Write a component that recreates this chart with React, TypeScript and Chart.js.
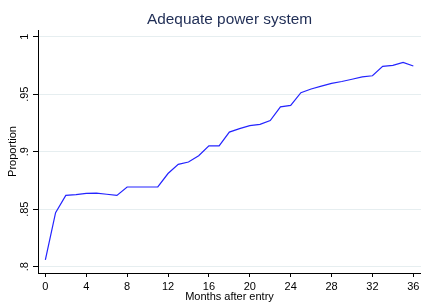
import React, { useEffect, useRef } from "react";
import { Chart, registerables } from "chart.js";

Chart.register(...registerables);

const months = [0, 1, 2, 3, 4, 5, 6, 7, 8, 9, 10, 11, 12, 13, 14, 15, 16, 17, 18, 19, 20, 21, 22, 23, 24, 25, 26, 27, 28, 29, 30, 31, 32, 33, 34, 35, 36];
const proportion = [
  0.806, 0.847, 0.862, 0.8626, 0.8638, 0.864, 0.863, 0.862, 0.8693, 0.8693,
  0.8693, 0.8693, 0.881, 0.889, 0.891, 0.8965, 0.905, 0.905, 0.917, 0.92,
  0.9226, 0.9238, 0.927, 0.939, 0.9403, 0.9513, 0.9545, 0.957, 0.9594, 0.961,
  0.963, 0.965, 0.966, 0.9742, 0.975, 0.9777, 0.9745,
];
const xTicks = [0, 4, 8, 12, 16, 20, 24, 28, 32, 36];
const yTicks = [0.8, 0.85, 0.9, 0.95, 1];
const yTickLabels = [".8", ".85", ".9", ".95", "1"];
const titleText = "Adequate power system";
const xTitle = "Months after entry";
const yTitle = "Proportion";

const FONT = "'Liberation Sans', Arial, Helvetica, sans-serif";

export default function App() {
  const ref = useRef<HTMLCanvasElement | null>(null);

  useEffect(() => {
    if (!ref.current) return;
    const customText = {
      id: "customText",
      afterDraw(chart: any) {
        const ctx = chart.ctx;
        const area = chart.chartArea;
        const y = chart.scales.y;
        ctx.save();
        // title
        ctx.fillStyle = "#1f2d55";
        ctx.font = `15.4px ${FONT}`;
        ctx.textAlign = "center";
        ctx.textBaseline = "alphabetic";
        ctx.fillText(titleText, (area.left + area.right) / 2, 24);
        // y tick labels (rotated)
        ctx.fillStyle = "#000";
        ctx.font = `11px ${FONT}`;
        yTicks.forEach((v, i) => {
          const py = y.getPixelForValue(v);
          ctx.save();
          ctx.translate(27.8, py);
          ctx.rotate(-Math.PI / 2);
          ctx.textAlign = "center";
          ctx.textBaseline = "alphabetic";
          ctx.fillText(yTickLabels[i], 0, 0);
          ctx.restore();
        });
        ctx.restore();
      },
    };

    const chart = new Chart(ref.current, {
      type: "line",
      data: {
        datasets: [
          {
            data: months.map((m, i) => ({ x: m, y: proportion[i] })),
            borderColor: "#2424ff",
            borderWidth: 1.2,
            pointRadius: 0,
            tension: 0,
            fill: false,
          },
        ],
      },
      options: {
        responsive: false,
        animation: false,
        layout: { padding: { top: 30, left: 0, right: 0, bottom: 0 } },
        plugins: {
          legend: { display: false },
          title: { display: false },
          tooltip: { enabled: false },
        },
        scales: {
          x: {
            type: "linear",
            min: -0.72,
            max: 36.75,
            afterBuildTicks: (s: any) => {
              s.ticks = xTicks.map((v) => ({ value: v }));
            },
            afterFit: (s: any) => {
              s.height = 32;
              s.paddingLeft = 0;
              s.paddingRight = 0;
            },
            grid: {
              display: true,
              drawOnChartArea: false,
              drawTicks: true,
              tickLength: 4,
              tickColor: "#000",
            },
            border: { display: true, color: "#000", width: 1 },
            ticks: {
              color: "#000",
              font: { family: FONT, size: 11 },
              padding: 3,
              maxRotation: 0,
              minRotation: 0,
            },
            title: {
              display: true,
              text: xTitle,
              color: "#000",
              font: { family: FONT, size: 11 },
              padding: { top: 0, bottom: 1 },
            },
          },
          y: {
            type: "linear",
            min: 0.7945,
            max: 1.0058,
            afterBuildTicks: (s: any) => {
              s.ticks = yTicks.map((v) => ({ value: v }));
            },
            afterFit: (s: any) => {
              s.width = 38;
              s.paddingTop = 0;
              s.paddingBottom = 0;
            },
            grid: {
              color: "#e6eef0",
              lineWidth: 1,
              drawTicks: true,
              tickLength: 5,
              tickColor: "#000",
            },
            border: { display: true, color: "#000", width: 1 },
            ticks: { display: false },
            title: {
              display: true,
              text: yTitle,
              color: "#000",
              font: { family: FONT, size: 11 },
              padding: { top: 6.5, bottom: 0 },
            },
          },
        },
      },
      plugins: [customText],
    } as any);
    return () => chart.destroy();
  }, []);

  return (
    <div style={{ position: "fixed", left: 0, top: 0, width: 421, height: 305, background: "#fff" }}>
      <canvas ref={ref} width={421} height={305} style={{ display: "block" }} />
    </div>
  );
}
